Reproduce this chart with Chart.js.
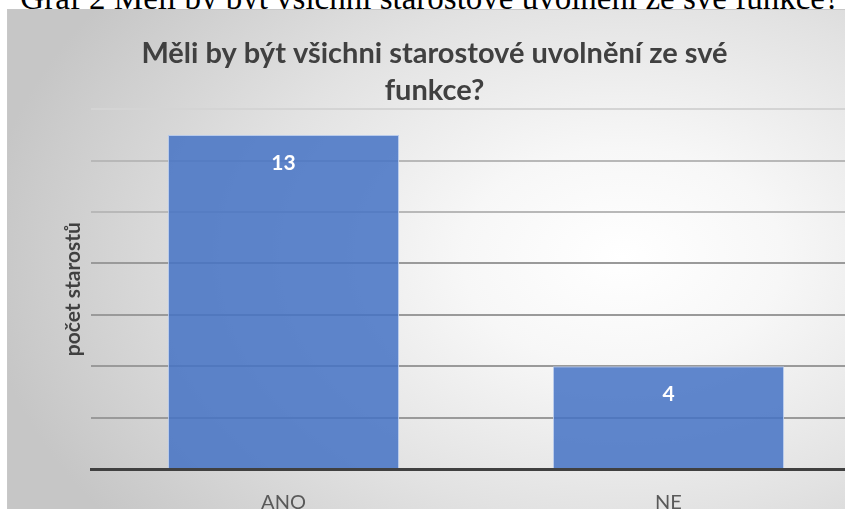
<!DOCTYPE html>
<html>
<head>
<meta charset="utf-8">
<script src="https://cdn.jsdelivr.net/npm/chart.js@4.4.1/dist/chart.umd.min.js"></script>
<style>
  html, body { margin: 0; padding: 0; background: #fff; overflow: hidden; width: 845px; height: 509px; }
  #caption {
    position: absolute; left: 0; top: -20px; width: 860px; text-align: center;
    font-family: "Liberation Serif", "DejaVu Serif", serif; font-size: 33px; color: #000; white-space: nowrap;
  }
  #panel {
    position: absolute; left: 7px; top: 9px; width: 853px; height: 515px;
    border-top: 1px solid #c8c8c8; border-left: 1px solid #c8c8c8;
    background: radial-gradient(ellipse 75% 85% at 72% 48%, #ffffff 0%, #f7f7f7 25%, #e2e2e2 60%, #c6c6c6 100%);
  }
  #graf { position: absolute; left: 0; top: 5px; }
</style>
</head>
<body>
<div id="caption">Graf 2 Měli by být všichni starostové uvolnění ze své funkce?</div>
<div id="panel"><canvas id="graf"></canvas></div>
<script>
const kategorie = ['ANO', 'NE'];
const pocty = [13, 4];
const nadpis = ['Měli by být všichni starostové uvolnění ze své', 'funkce?'];
const osaY = 'počet starostů';

const popisky = {
  id: 'popisky',
  afterDatasetsDraw(chart) {
    const c = chart.ctx;
    c.save();
    c.fillStyle = '#ffffff';
    c.font = 'bold 21px Lato';
    c.textAlign = 'center';
    c.textBaseline = 'middle';
    chart.getDatasetMeta(0).data.forEach(function (bar, i) {
      c.fillText(pocty[i], bar.x, bar.y + 28);
    });
    c.restore();
  }
};

const ctx = document.getElementById('graf');
ctx.width = 853;
ctx.height = 510;
const graf = new Chart(ctx, {
  type: 'bar',
  data: {
    labels: kategorie,
    datasets: [{
      data: pocty,
      backgroundColor: 'rgba(68,114,196,0.85)',
      borderColor: 'rgba(180,200,235,0.9)',
      borderWidth: 1,
      barPercentage: 0.6,
      categoryPercentage: 1
    }]
  },
  options: {
    responsive: false,
    animation: false,
    layout: { padding: 0 },
    plugins: {
      legend: { display: false },
      tooltip: { enabled: false },
      title: {
        display: true,
        text: nadpis,
        color: '#404040',
        font: { family: 'Lato', size: 29, weight: 'bold', lineHeight: 1.28 },
        padding: { top: 20, bottom: 0 }
      }
    },
    scales: {
      x: {
        grid: { display: false },
        border: { color: '#404040', width: 3 },
        ticks: { color: '#595959', font: { family: 'Lato', size: 20 }, padding: 14 },
        afterFit(s) { s.height = 56; }
      },
      y: {
        min: 0,
        max: 14,
        ticks: { display: false, stepSize: 2 },
        border: { display: false },
        grid: {
          color: function (c) { return c.tick.value >= 14 ? '#d4d4d4' : (c.tick.value >= 10 ? '#b8b8b8' : '#9a9a9a'); },
          lineWidth: 2,
          drawTicks: false
        },
        title: {
          display: true,
          text: osaY,
          color: '#404040',
          font: { family: 'Lato', size: 21, weight: 'bold' },
          padding: { top: 53, bottom: 0 }
        },
        afterFit(s) { s.width = 83; }
      }
    }
  },
  plugins: [popisky]
});
</script>
</body>
</html>
